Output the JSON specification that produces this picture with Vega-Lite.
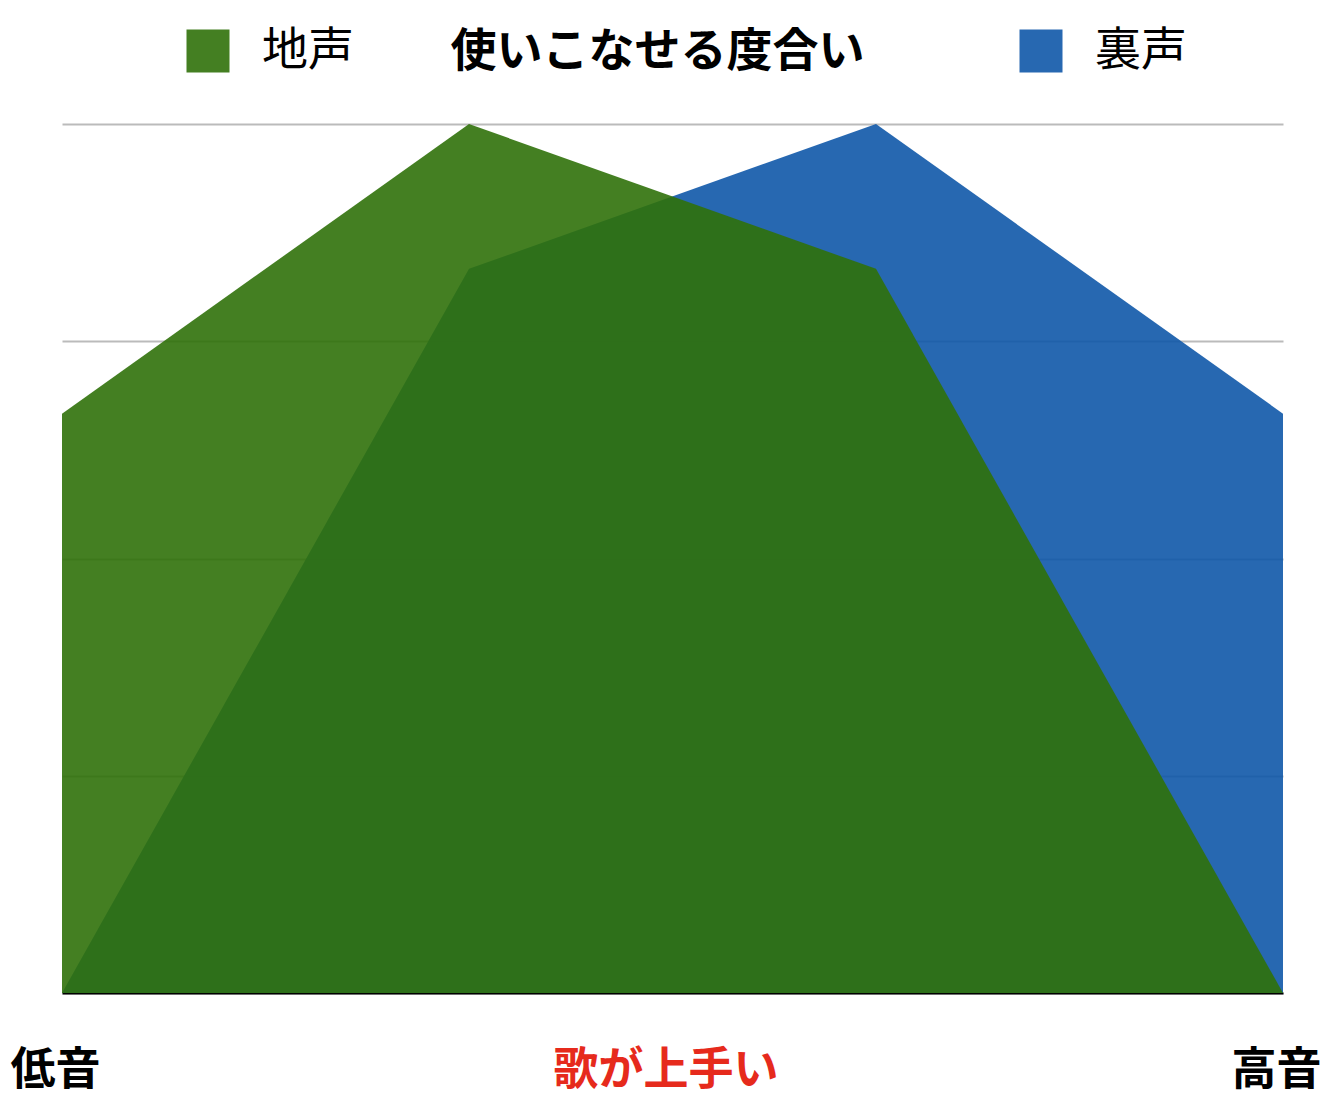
{
  "$schema": "https://vega.github.io/schema/vega-lite/v6.json",
  "width": 1221,
  "height": 869,
  "autosize": {"type": "none"},
  "padding": {"left": 62, "top": 124, "right": 51, "bottom": 111},
  "background": "white",
  "config": {"view": {"stroke": null}, "font": "Noto Sans CJK JP"},
  "title": {
    "text": "使いこなせる度合い",
    "font": "Noto Sans CJK JP",
    "fontSize": 46,
    "fontWeight": "bold",
    "color": "#000000",
    "anchor": "middle",
    "dx": -15,
    "offset": 0,
    "dy": 48
  },
  "data": {
    "values": [
      {"pos": 0, "series": "地声", "value": 4},
      {"pos": 1, "series": "地声", "value": 6},
      {"pos": 2, "series": "地声", "value": 5},
      {"pos": 3, "series": "地声", "value": 0},
      {"pos": 0, "series": "裏声", "value": 0},
      {"pos": 1, "series": "裏声", "value": 5},
      {"pos": 2, "series": "裏声", "value": 6},
      {"pos": 3, "series": "裏声", "value": 4}
    ]
  },
  "encoding": {
    "x": {
      "field": "pos",
      "type": "quantitative",
      "scale": {"domain": [0, 3], "nice": false, "zero": false},
      "axis": {
        "title": null,
        "values": [0, 1.5, 3],
        "labelExpr": "datum.value == 0 ? '低音' : datum.value == 3 ? '高音' : '歌が上手い'",
        "labelFont": "Noto Sans CJK JP",
        "labelFontSize": 45,
        "labelFontWeight": "bold",
        "labelColor": {"condition": {"test": "datum.value == 1.5", "value": "#e62a1c"}, "value": "#000000"},
        "labelFlush": false,
        "labelOverlap": false,
        "labelLimit": 500,
        "labelPadding": 55,
        "labelOffset": -7,
        "ticks": false,
        "grid": false,
        "domain": true,
        "domainColor": "#000000",
        "domainWidth": 2
      }
    },
    "y": {
      "field": "value",
      "type": "quantitative",
      "stack": null,
      "scale": {"domain": [0, 6], "nice": false},
      "axis": {
        "title": null,
        "values": [0, 1.5, 3, 4.5, 6],
        "labels": false,
        "ticks": false,
        "domain": false,
        "grid": true,
        "gridColor": "#bbbbbb",
        "gridWidth": 2
      }
    },
    "color": {
      "field": "series",
      "type": "nominal",
      "scale": {"domain": ["地声", "裏声"], "range": ["#30710a", "#0f58a9"]},
      "legend": {
        "title": null,
        "orient": "none",
        "legendX": 123,
        "legendY": -96,
        "direction": "horizontal",
        "columns": 2,
        "columnPadding": 664,
        "padding": 0,
        "symbolType": "square",
        "symbolSize": 1849,
        "symbolStrokeWidth": 0,
        "symbolOpacity": 0.9,
        "labelFont": "Noto Sans CJK JP",
        "labelFontSize": 46,
        "labelColor": "#000000",
        "labelOffset": 31,
        "labelLimit": 300
      }
    }
  },
  "layer": [
    {
      "transform": [{"filter": "datum.series == '裏声'"}],
      "mark": {"type": "area", "opacity": 0.9, "interpolate": "linear"}
    },
    {
      "transform": [{"filter": "datum.series == '地声'"}],
      "mark": {"type": "area", "opacity": 0.9, "interpolate": "linear"}
    }
  ]
}
